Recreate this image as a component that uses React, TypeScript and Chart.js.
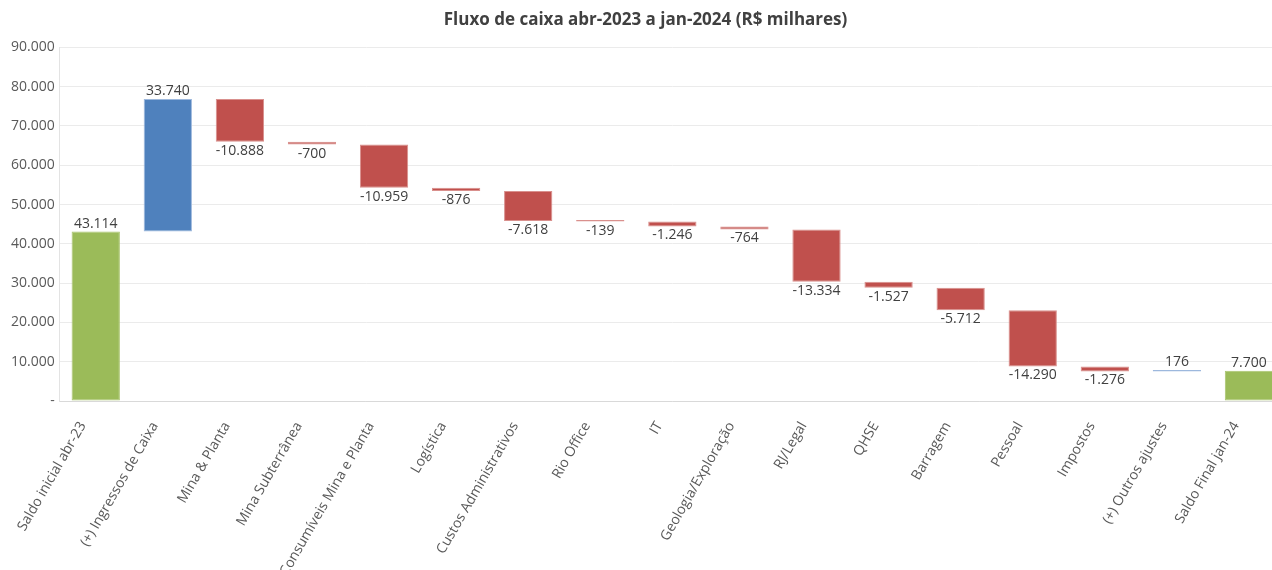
import React, { useEffect, useRef } from "react";
import { Chart, registerables } from "chart.js";

Chart.register(...registerables);

const title = "Fluxo de caixa abr-2023 a jan-2024 (R$ milhares)";
const categories = [
  "Saldo inicial abr-23",
  "(+) Ingressos de Caixa",
  "Mina & Planta",
  "Mina Subterrânea",
  "Consumíveis Mina e Planta",
  "Logística",
  "Custos Administrativos",
  "Rio Office",
  "IT",
  "Geologia/Exploração",
  "RJ/Legal",
  "QHSE",
  "Barragem",
  "Pessoal",
  "Impostos",
  "(+) Outros ajustes",
  "Saldo Final jan-24",
];
const values = [43114, 33740, -10888, -700, -10959, -876, -7618, -139, -1246, -764, -13334, -1527, -5712, -14290, -1276, 176, 7700];
const kinds = ["total", "inc", "dec", "dec", "dec", "dec", "dec", "dec", "dec", "dec", "dec", "dec", "dec", "dec", "dec", "inc", "total"];
const yTicks = [0, 10000, 20000, 30000, 40000, 50000, 60000, 70000, 80000, 90000];

const kindColors: Record<string, string> = { total: "#9BBB59", inc: "#4F81BD", dec: "#C0504D" };
const kindBorders: Record<string, string> = { total: "#A9C46E", inc: "#9DB8DD", dec: "#D9908D" };

const fmt = (v: number) => {
  const s = String(Math.abs(v)).replace(/\B(?=(\d{3})+(?!\d))/g, ".");
  return (v < 0 ? "-" : "") + s;
};

const FONT = "'Open Sans', sans-serif";

export default function App() {
  const ref = useRef<HTMLCanvasElement | null>(null);
  useEffect(() => {
    document.body.style.margin = "0";
    document.documentElement.style.overflow = "hidden";
    let running = 0;
    const ranges = values.map((v, i) => {
      if (kinds[i] === "total") {
        running = v;
        return [0, v];
      }
      const r = [running, running + v];
      running += v;
      return r;
    });
    const labelPlugin = {
      id: "wfLabels",
      afterDatasetsDraw(chart: any) {
        const ctx = chart.ctx;
        const meta = chart.getDatasetMeta(0);
        ctx.save();
        ctx.font = `14px ${FONT}`;
        ctx.fillStyle = "#404040";
        ctx.textAlign = "center";
        meta.data.forEach((el: any, i: number) => {
          const v = values[i];
          const top = Math.min(el.y, el.base);
          const bot = Math.max(el.y, el.base);
          if (v >= 0) {
            ctx.textBaseline = "bottom";
            ctx.fillText(fmt(v), el.x, top - 1);
          } else {
            ctx.textBaseline = "top";
            ctx.fillText(fmt(v), el.x, bot + 2);
          }
        });
        ctx.restore();
      },
    };
    const chart = new Chart(ref.current as HTMLCanvasElement, {
      type: "bar",
      data: {
        labels: categories,
        datasets: [
          {
            data: ranges as any,
            backgroundColor: kinds.map((k) => kindColors[k]),
            borderColor: kinds.map((k) => kindBorders[k]),
            borderWidth: 1,
            borderSkipped: false,
            minBarLength: 1.5,
            barPercentage: 0.67,
            categoryPercentage: 1,
          },
        ],
      },
      options: {
        animation: false,
        responsive: false,
        maintainAspectRatio: false,
        layout: { padding: { left: 6, right: 5, top: 0, bottom: 0 } },
        plugins: {
          legend: { display: false },
          tooltip: { enabled: false },
          title: {
            display: true,
            text: title,
            color: "#404040",
            font: { family: FONT, size: 17, weight: "bold" },
            padding: { top: 10, bottom: 17 },
          },
        },
        scales: {
          x: {
            grid: { display: false },
            border: { display: true, color: "#D9D9D9" },
            ticks: {
              autoSkip: false,
              maxRotation: 60,
              minRotation: 60,
              color: "#595959",
              font: { family: FONT, size: 14 },
              padding: 10,
              labelOffset: -13,
            },
            afterFit: (axis: any) => {
              axis.height = 169;
            },
          },
          y: {
            min: 0,
            max: 90000,
            afterBuildTicks: (axis: any) => {
              axis.ticks = yTicks.map((v) => ({ value: v }));
            },
            grid: { color: "#EBEBEB", drawTicks: false },
            border: { display: true, color: "#E3E3E3" },
            ticks: {
              color: "#595959",
              font: { family: FONT, size: 14 },
              padding: 5,
              callback: (v: any) => (Number(v) === 0 ? "-" : fmt(Number(v))),
            },
          },
        },
      },
      plugins: [labelPlugin],
    });
    return () => chart.destroy();
  }, []);
  return (
    <div style={{ position: "absolute", left: 0, top: 0, width: 1290, height: 570 }}>
      <canvas ref={ref} width={1290} height={570} style={{ width: 1290, height: 570 }} />
    </div>
  );
}
